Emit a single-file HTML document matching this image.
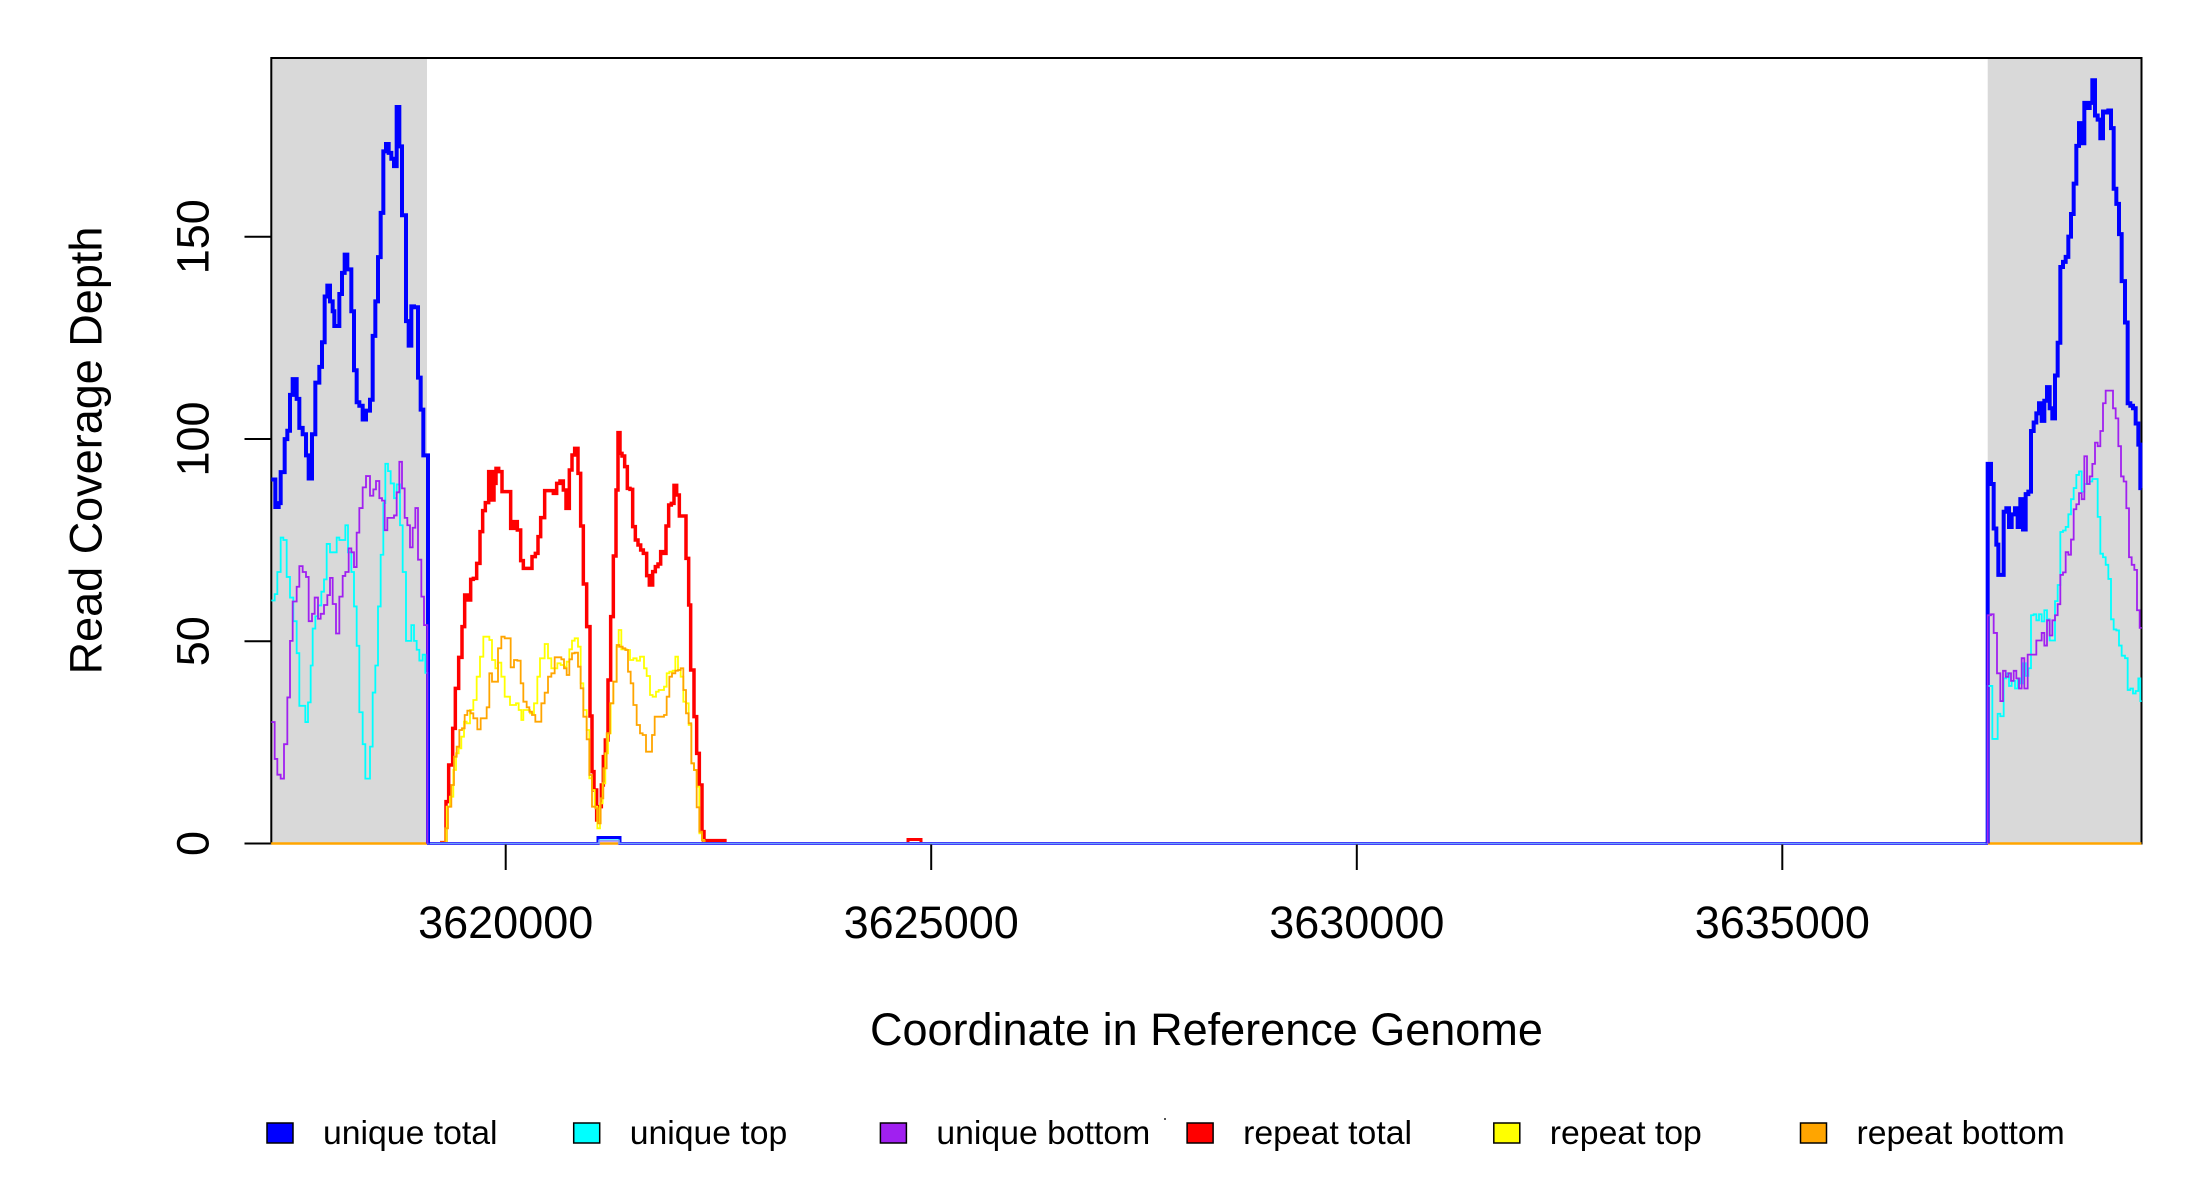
<!DOCTYPE html>
<html><head><meta charset="utf-8"><style>
html,body{margin:0;padding:0;background:#fff;}
svg{display:block;}
text{font-family:"Liberation Sans",Arial,sans-serif;fill:#000;}
.ns{vector-effect:non-scaling-stroke;fill:none;stroke-linejoin:miter;}
</style></head><body>
<svg width="2200" height="1200" viewBox="0 0 2200 1200" xmlns="http://www.w3.org/2000/svg">
<rect x="0" y="0" width="2200" height="1200" fill="#fff"/>
<!-- grey regions -->
<rect x="271.3" y="58" width="155.7" height="785.5" fill="#d9d9d9"/>
<rect x="1987.7" y="58" width="153.8" height="785.5" fill="#d9d9d9"/>

<!-- plot box -->
<rect x="271.3" y="58" width="1870.2" height="785.5" fill="none" stroke="#000" stroke-width="2"/>

<!-- repeat baselines -->
<path d="M271.3 843.5 H2141.5" stroke="#ff0000" stroke-width="1.5" fill="none"/>
<path d="M271.3 843.5 H2141.5" stroke="#ffff00" stroke-width="1.5" fill="none"/>
<path d="M271.3 843.5 H2141.5" stroke="#ffa500" stroke-width="2.5" fill="none"/>

<!-- red blip -->
<path d="M908 843.5 V839.5 H921 V843.5" stroke="#ff0000" stroke-width="3" fill="none"/>

<!-- middle repeat series (zoom coords) -->
<g transform="translate(440,420) scale(0.33333,0.33333)">
<path class="ns" stroke="#ff0000" stroke-width="3.5" d="M0 1268 H18 V1145 H26 V1035 H38 V925 H46 V805 H56 V712 H66 V620 H74 V525 H84 V540 H92 V478 H100 V475 H110 V430 H120 V335 H128 V272 H136 V248 H146 V155 H150 V240 H154 V155 H158 V240 H162 V190 H168 V145 H176 V155 H186 V215 H212 V325 H222 V305 H232 V330 H242 V422 H250 V445 H276 V410 H286 V400 H294 V350 H302 V293 H314 V212 H340 V220 H350 V190 H360 V183 H370 V210 H378 V265 H388 V150 H396 V105 H404 V85 H414 V160 H422 V318 H430 V492 H440 V620 H450 V888 H456 V1055 H462 V1110 H470 V1200 H478 V1160 H484 V1095 H490 V1010 H496 V960 H504 V780 H512 V590 H520 V408 H528 V210 H534 V38 H540 V100 H546 V108 H554 V140 H562 V205 H570 V208 H578 V320 H586 V360 H594 V375 H602 V390 H610 V400 H620 V467 H628 V495 H638 V455 H646 V440 H654 V432 H662 V395 H670 V400 H678 V318 H686 V255 H694 V250 H702 V196 H710 V225 H718 V288 H738 V415 H746 V555 H752 V750 H762 V890 H770 V1000 H778 V1095 H786 V1235 H792 V1265 H800 V1262 H860"/>
<path class="ns" stroke="#ffff00" stroke-width="1.8" d="M0 1268 H20 V1160 H30 V1130 H40 V1050 H48 V1000 H56 V985 H64 V950 H72 V905 H80 V910 H90 V870 H100 V840 H110 V770 H120 V710 H130 V650 H148 V660 H156 V720 H166 V745 H174 V728 H184 V770 H194 V830 H210 V855 H228 V850 H236 V870 H244 V900 H250 V870 H270 V880 H282 V850 H292 V770 H300 V715 H314 V672 H324 V715 H334 V745 H352 V730 H362 V735 H372 V740 H380 V725 H388 V688 H396 V662 H404 V655 H414 V680 H422 V790 H430 V870 H440 V930 H448 V1075 H456 V1110 H464 V1160 H472 V1225 H480 V1150 H488 V1090 H496 V1000 H504 V940 H512 V850 H520 V785 H530 V680 H536 V630 H544 V688 H560 V690 H570 V720 H580 V715 H590 V722 H600 V710 H612 V745 H620 V768 H630 V825 H638 V830 H648 V815 H656 V810 H672 V800 H680 V760 H688 V755 H698 V752 H706 V710 H714 V750 H722 V770 H730 V845 H738 V850 H746 V915 H754 V1030 H762 V1050 H770 V1100 H778 V1240 H786 V1260 H792 V1268"/>
<path class="ns" stroke="#ffa500" stroke-width="1.8" d="M0 1268 H16 V1225 H24 V1160 H34 V1095 H42 V1010 H50 V980 H58 V930 H66 V925 H74 V885 H82 V872 H92 V880 H100 V895 H112 V928 H122 V895 H140 V862 H148 V760 H156 V785 H174 V685 H184 V650 H194 V655 H212 V742 H222 V720 H232 V722 H242 V790 H250 V845 H260 V862 H268 V875 H276 V885 H286 V905 H304 V850 H314 V818 H324 V770 H334 V760 H344 V712 H364 V718 H372 V745 H380 V765 H388 V718 H396 V700 H404 V698 H414 V740 H422 V805 H430 V890 H440 V958 H448 V1065 H456 V1160 H466 V1165 H474 V1210 H482 V1135 H490 V1045 H500 V940 H510 V850 H520 V785 H530 V675 H538 V680 H548 V685 H556 V690 H564 V755 H572 V790 H580 V855 H590 V915 H600 V940 H608 V945 H618 V995 H636 V945 H644 V890 H672 V885 H680 V830 H688 V770 H696 V760 H706 V752 H714 V750 H722 V745 H730 V810 H738 V880 H746 V910 H754 V1030 H762 V1050 H770 V1162 H778 V1235 H786 V1262 H794 V1268"/>
</g>

<!-- unique middle baselines -->
<path d="M427 843.5 H598 V837.5 H620 V843.5 H1988" stroke="#0000ff" stroke-width="3" fill="none"/>
<path d="M427 843.5 H599 V840 H619 V843.5 H1988" stroke="#00ffff" stroke-width="1.2" fill="none"/>
<path d="M427 843.5 H599 V841 H619 V843.5 H1988" stroke="#9a7af5" stroke-width="2.2" fill="none" opacity="0.7"/>

<!-- left region unique series -->
<g transform="translate(266,80) scale(0.33333,0.492)">
<path class="ns" stroke="#0000ff" stroke-width="4" d="M16 812 H28 V868 H38 V860 H44 V797 H56 V730 H64 V713 H72 V640 H80 V608 H92 V648 H100 V707 H110 V720 H120 V763 H128 V810 H138 V720 H148 V615 H160 V583 H168 V533 H176 V440 H184 V418 H192 V450 H200 V470 H205 V500 H220 V435 H228 V392 H236 V355 H244 V385 H256 V470 H264 V590 H272 V655 H280 V662 H290 V690 H300 V672 H312 V650 H320 V520 H328 V450 H336 V360 H344 V270 H352 V145 H360 V130 H368 V148 H376 V160 H384 V175 H392 V55 H400 V135 H408 V275 H420 V490 H428 V540 H436 V460 H444 V462 H456 V605 H464 V670 H472 V763 H486 V1552"/>
<path class="ns" stroke="#00ffff" stroke-width="1.8" d="M16 1058 H26 V1045 H34 V1000 H44 V930 H52 V935 H62 V1010 H72 V1052 H82 V1100 H92 V1165 H100 V1272 H118 V1305 H126 V1265 H134 V1190 H140 V1115 H148 V1090 H156 V1068 H166 V1040 H174 V1015 H182 V943 H192 V960 H212 V930 H220 V935 H238 V905 H246 V960 H256 V1000 H264 V1070 H272 V1150 H280 V1285 H290 V1350 H298 V1420 H312 V1355 H320 V1245 H328 V1190 H336 V1070 H344 V965 H352 V860 H358 V780 H366 V795 H374 V820 H384 V850 H392 V822 H402 V905 H410 V1000 H420 V1140 H436 V1108 H444 V1140 H452 V1158 H460 V1180 H470 V1168 H478 V1205 H484 V1552"/>
<path class="ns" stroke="#a020f0" stroke-width="1.8" d="M16 1305 H26 V1380 H34 V1412 H44 V1420 H54 V1350 H64 V1255 H72 V1140 H80 V1060 H92 V1030 H100 V988 H110 V1000 H120 V1010 H128 V1100 H138 V1085 H146 V1052 H156 V1095 H164 V1085 H174 V1067 H184 V1047 H192 V1012 H200 V1065 H210 V1125 H220 V1050 H230 V1008 H238 V1000 H248 V952 H256 V960 H264 V990 H272 V920 H280 V870 H290 V828 H300 V805 H312 V845 H322 V832 H330 V815 H340 V850 H348 V855 H356 V915 H364 V890 H384 V885 H392 V838 H400 V776 H408 V830 H416 V890 H424 V905 H432 V950 H440 V910 H448 V870 H456 V975 H466 V1050 H474 V1108 H484 V1552"/>
</g>

<!-- right region unique series -->
<g transform="translate(1985,60) scale(0.33333,0.5048)">
<path class="ns" stroke="#0000ff" stroke-width="4" d="M8 1552 V800 H18 V840 H26 V928 H34 V960 H40 V1020 H56 V895 H64 V888 H72 V925 H80 V900 H90 V888 H98 V925 H106 V870 H114 V930 H122 V860 H130 V855 H138 V735 H146 V718 H154 V700 H162 V680 H170 V715 H178 V675 H186 V648 H194 V690 H202 V710 H210 V625 H218 V560 H226 V410 H234 V400 H242 V390 H250 V350 H258 V305 H266 V245 H274 V170 H282 V125 H290 V165 H298 V85 H306 V95 H314 V85 H322 V40 H330 V110 H338 V118 H346 V155 H354 V102 H362 V104 H370 V100 H378 V135 H386 V255 H394 V285 H402 V345 H410 V438 H420 V520 H428 V680 H436 V685 H444 V690 H452 V720 H460 V762 H466 V848 H470"/>
<path class="ns" stroke="#00ffff" stroke-width="1.8" d="M8 1552 V1240 H22 V1345 H38 V1295 H46 V1300 H56 V1225 H64 V1215 H72 V1240 H80 V1230 H90 V1245 H98 V1225 H106 V1235 H114 V1195 H122 V1220 H130 V1205 H138 V1100 H146 V1098 H154 V1110 H162 V1098 H170 V1112 H178 V1090 H186 V1108 H194 V1150 H210 V1072 H218 V1040 H226 V935 H234 V932 H242 V925 H250 V900 H258 V870 H266 V848 H274 V822 H282 V815 H290 V855 H298 V840 H314 V835 H322 V830 H338 V905 H346 V978 H354 V985 H362 V1000 H370 V1028 H378 V1108 H386 V1128 H394 V1130 H402 V1160 H410 V1180 H420 V1185 H428 V1248 H436 V1245 H444 V1255 H452 V1250 H460 V1225 H466 V1270 H470"/>
<path class="ns" stroke="#a020f0" stroke-width="1.8" d="M8 1552 V1100 H18 V1098 H26 V1135 H36 V1215 H46 V1270 H54 V1210 H62 V1222 H70 V1215 H78 V1230 H86 V1210 H94 V1225 H102 V1245 H110 V1185 H118 V1245 H128 V1178 H154 V1150 H170 V1135 H178 V1160 H186 V1110 H194 V1140 H202 V1110 H210 V1100 H218 V1078 H226 V1020 H234 V1015 H242 V975 H250 V980 H258 V950 H266 V890 H274 V880 H282 V858 H290 V870 H298 V785 H306 V840 H314 V825 H322 V800 H330 V758 H338 V765 H346 V735 H354 V680 H362 V655 H384 V690 H392 V710 H400 V765 H408 V825 H416 V835 H424 V888 H432 V985 H440 V1000 H448 V1010 H456 V1090 H464 V1125 H470"/>
</g>

<!-- ticks -->
<g stroke="#000" stroke-width="2">
<line x1="505.7" y1="844.5" x2="505.7" y2="870"/>
<line x1="931.2" y1="844.5" x2="931.2" y2="870"/>
<line x1="1356.8" y1="844.5" x2="1356.8" y2="870"/>
<line x1="1782.3" y1="844.5" x2="1782.3" y2="870"/>
<line x1="244.5" y1="843.5" x2="270.3" y2="843.5"/>
<line x1="244.5" y1="641.25" x2="271.3" y2="641.25"/>
<line x1="244.5" y1="439" x2="271.3" y2="439"/>
<line x1="244.5" y1="236.75" x2="271.3" y2="236.75"/>
</g>
<g font-size="45" text-anchor="middle">
<text x="505.7" y="938">3620000</text>
<text x="931.2" y="938">3625000</text>
<text x="1356.8" y="938">3630000</text>
<text x="1782.3" y="938">3635000</text>
<text transform="translate(208.5,843.5) rotate(-90)">0</text>
<text transform="translate(208.5,641.25) rotate(-90)">50</text>
<text transform="translate(208.5,439) rotate(-90)">100</text>
<text transform="translate(208.5,236.75) rotate(-90)">150</text>
<text x="1206.4" y="1045">Coordinate in Reference Genome</text>
<text transform="translate(101.5,450.5) rotate(-90)">Read Coverage Depth</text>
</g>

<!-- legend -->
<g stroke="#000" stroke-width="1.5">
<rect x="267" y="1123" width="26" height="20" fill="#0000ff"/>
<rect x="573.7" y="1123" width="26" height="20" fill="#00ffff"/>
<rect x="880.4" y="1123" width="26" height="20" fill="#a020f0"/>
<rect x="1187.1" y="1123" width="26" height="20" fill="#ff0000"/>
<rect x="1493.8" y="1123" width="26" height="20" fill="#ffff00"/>
<rect x="1800.5" y="1123" width="26" height="20" fill="#ffa500"/>
</g>
<g font-size="33.75">
<text x="323" y="1144">unique total</text>
<text x="629.7" y="1144">unique top</text>
<text x="936.4" y="1144">unique bottom</text>
<text x="1243.1" y="1144">repeat total</text>
<text x="1549.8" y="1144">repeat top</text>
<text x="1856.5" y="1144">repeat bottom</text>
</g>
<rect x="1164" y="1118" width="2" height="2" fill="#555"/>
</svg>
</body></html>
